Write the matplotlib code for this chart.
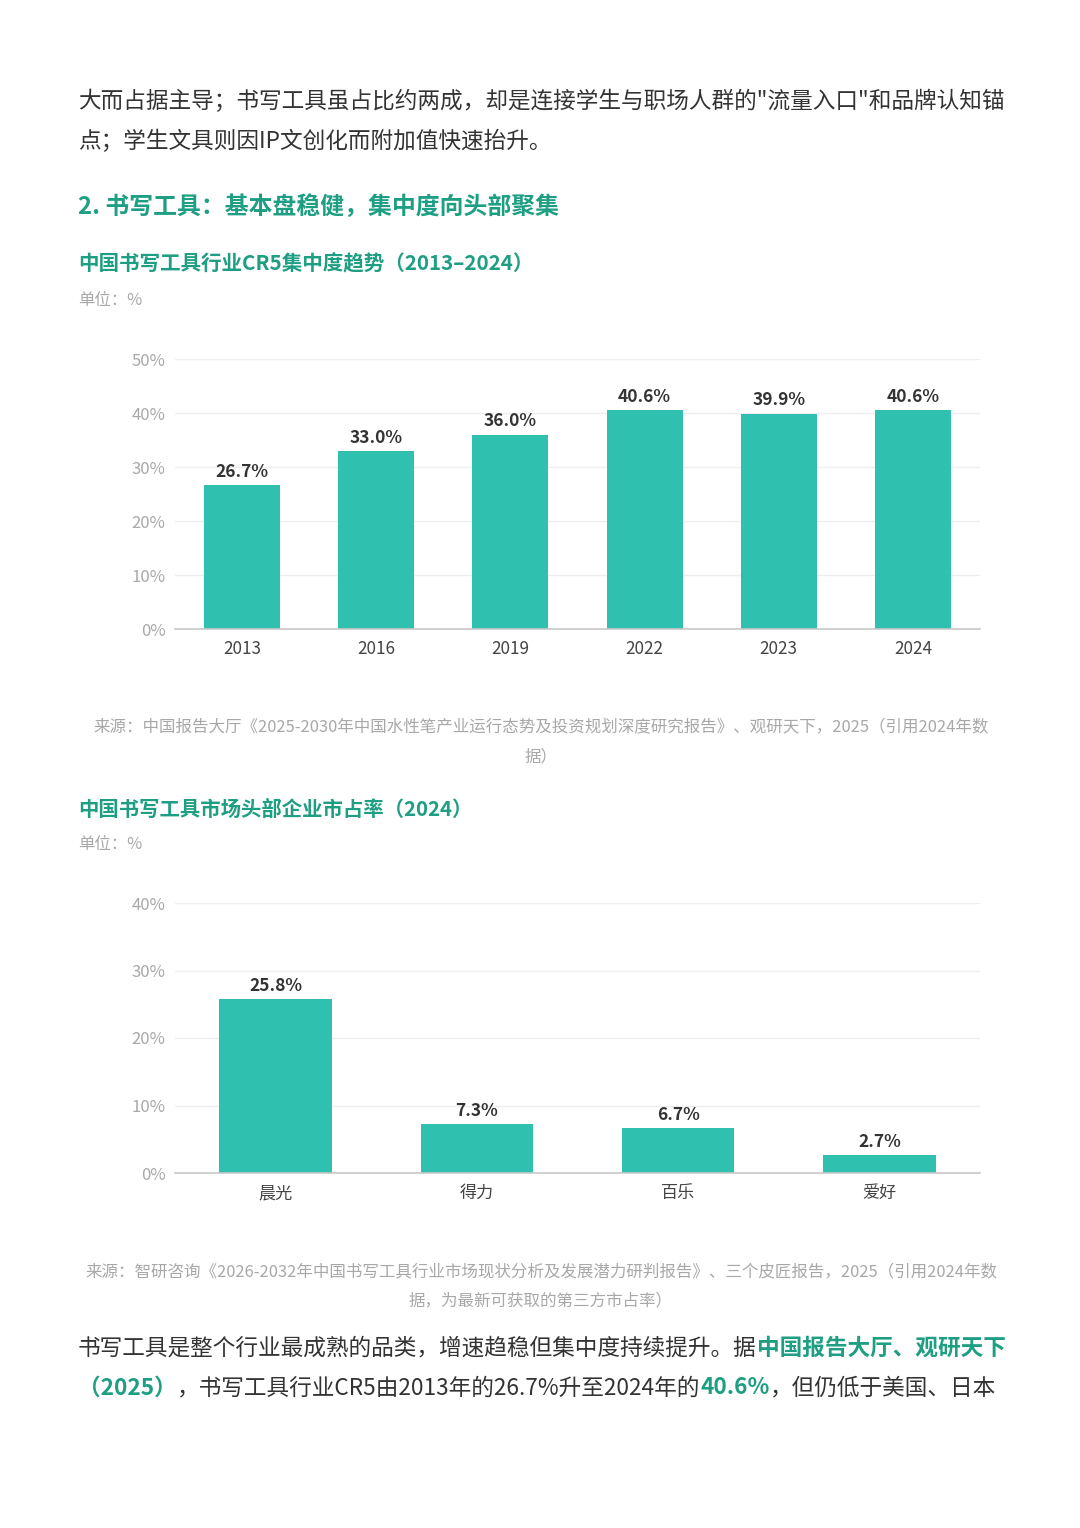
import matplotlib
matplotlib.use("Agg")
import matplotlib.pyplot as plt

plt.rcParams['font.family'] = ['Noto Sans CJK SC', 'DejaVu Sans']

# ---------------- data ----------------
years = ['2013', '2016', '2019', '2022', '2023', '2024']
cr5 = [26.7, 33.0, 36.0, 40.6, 39.9, 40.6]
cr5_ticks = [0, 10, 20, 30, 40, 50]

companies = ['晨光', '得力', '百乐', '爱好']
shares = [25.8, 7.3, 6.7, 2.7]
share_ticks = [0, 10, 20, 30, 40]

para_top = ['大而占据主导；书写工具虽占比约两成，却是连接学生与职场人群的"流量入口"和品牌认知锚',
            '点；学生文具则因IP文创化而附加值快速抬升。']
section_title = '2. 书写工具：基本盘稳健，集中度向头部聚集'
title1 = '中国书写工具行业CR5集中度趋势（2013–2024）'
title2 = '中国书写工具市场头部企业市占率（2024）'
unit = '单位：%'
source1 = ['来源：中国报告大厅《2025-2030年中国水性笔产业运行态势及投资规划深度研究报告》、观研天下，2025（引用2024年数',
           '据）']
source2 = ['来源：智研咨询《2026-2032年中国书写工具行业市场现状分析及发展潜力研判报告》、三个皮匠报告，2025（引用2024年数',
           '据，为最新可获取的第三方市占率）']

# ---------------- style ----------------
W, H = 1080, 1528
TEAL = '#1E9E82'
BAR = '#30C0B0'
DARK = '#333333'
GRAY = '#A8A8A8'
BODY = 16.3

fig = plt.figure(figsize=(W / 100, H / 100), dpi=100)
fig.patch.set_facecolor('white')
renderer = fig.canvas.get_renderer()


def fx(x):
    return x / W


def fy(y):
    return 1 - y / H


def runs(y, x0, segments, size):
    x = x0
    for text, color, weight in segments:
        t = fig.text(fx(x), fy(y), text, color=color, fontsize=size,
                     fontweight=weight, va='center', ha='left')
        bb = t.get_window_extent(renderer)
        x += bb.width


# top paragraph
runs(101, 78, [(para_top[0], DARK, 'normal')], BODY)
runs(141, 78, [(para_top[1], DARK, 'normal')], BODY)

# section heading
fig.text(fx(78), fy(207), section_title, color=TEAL, fontsize=17.2,
         fontweight='bold', va='center')

# chart titles / units
fig.text(fx(78), fy(264), title1, color=TEAL, fontsize=14.8, fontweight='bold', va='center')
fig.text(fx(78), fy(300), unit, color=GRAY, fontsize=11.8, va='center')
fig.text(fx(78), fy(809), title2, color=TEAL, fontsize=14.7, fontweight='bold', va='center')
fig.text(fx(78), fy(845), unit, color=GRAY, fontsize=11.8, va='center')

# sources
fig.text(fx(541), fy(727), source1[0], color=GRAY, fontsize=11.9, ha='center', va='center')
fig.text(fx(541), fy(757), source1[1], color=GRAY, fontsize=11.9, ha='center', va='center')
fig.text(fx(541), fy(1272), source2[0], color=GRAY, fontsize=11.9, ha='center', va='center')
fig.text(fx(541), fy(1301), source2[1], color=GRAY, fontsize=11.9, ha='center', va='center')


def bar_chart(rect, cats, vals, ticks, width):
    ax = fig.add_axes(rect)
    x = list(range(len(cats)))
    ax.bar(x, vals, width=width, color=BAR, zorder=3)
    ax.set_xlim(-0.5, len(cats) - 0.5)
    ax.set_ylim(ticks[0], ticks[-1])
    ax.set_yticks(ticks)
    ax.set_yticklabels([f'{t}%' for t in ticks])
    ax.set_xticks(x)
    ax.set_xticklabels(cats)
    ax.tick_params(axis='y', length=0, pad=7, labelsize=12, labelcolor=GRAY)
    ax.tick_params(axis='x', length=0, pad=8, labelsize=12.3, labelcolor='#444444')
    for s in ['top', 'right', 'left']:
        ax.spines[s].set_visible(False)
    ax.spines['bottom'].set_color('#C8C8C8')
    ax.spines['bottom'].set_linewidth(1.2)
    ax.spines['bottom'].set_zorder(4)
    ax.grid(axis='y', color='#EEEEEE', linewidth=1, zorder=0)
    ax.set_axisbelow(True)
    for xi, v in zip(x, vals):
        ax.annotate(f'{v:.1f}%', (xi, v), xytext=(0, 3), textcoords='offset points',
                    ha='center', va='bottom', fontsize=12.5, fontweight='bold',
                    color=DARK)
    ax.set_facecolor('none')
    return ax


bar_chart([fx(175), fy(629), fx(980) - fx(175), fy(359) - fy(629)],
          years, cr5, cr5_ticks, 0.567)
bar_chart([fx(175), fy(1173), fx(980) - fx(175), fy(903) - fy(1173)],
          companies, shares, share_ticks, 0.56)

# bottom paragraph
runs(1348, 78, [('书写工具是整个行业最成熟的品类，增速趋稳但集中度持续提升。据', DARK, 'normal'),
                ('中国报告大厅、观研天下', TEAL, 'bold')], BODY)
runs(1388, 78, [('（2025）', TEAL, 'bold'),
                ('，书写工具行业CR5由2013年的26.7%升至2024年的', DARK, 'normal'),
                ('40.6%', TEAL, 'bold'),
                ('，但仍低于美国、日本', DARK, 'normal')], BODY)

fig.savefig('out.png', dpi=100, facecolor='white')
